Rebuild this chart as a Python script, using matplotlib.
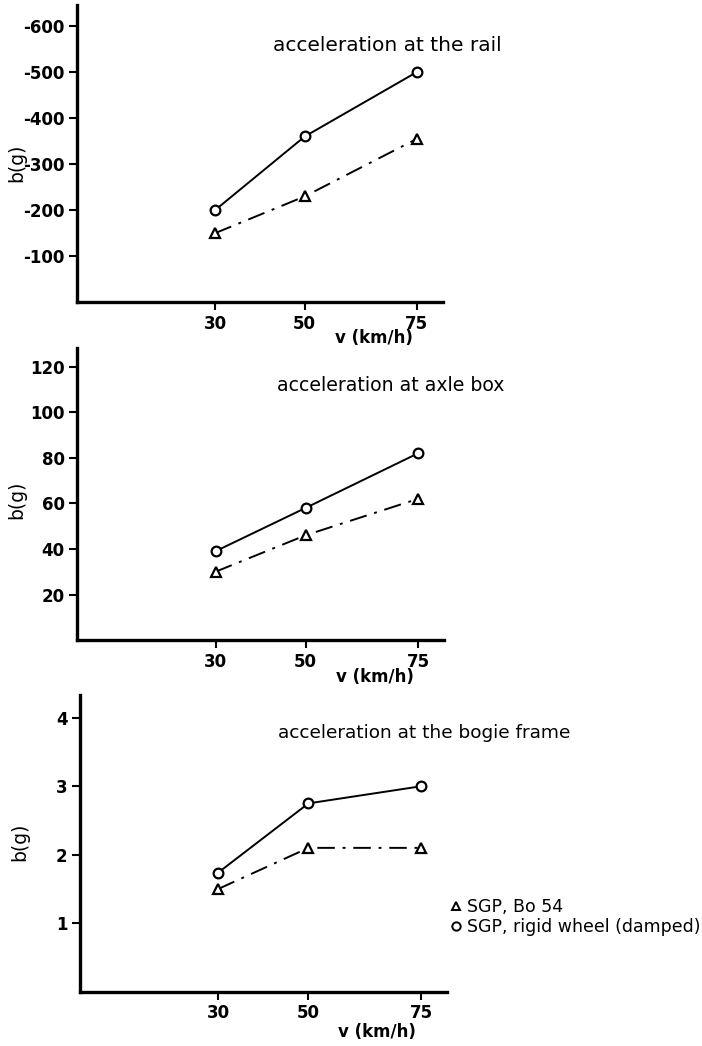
import matplotlib
matplotlib.use("Agg")
import matplotlib.pyplot as plt
from matplotlib.lines import Line2D
from matplotlib.ticker import FuncFormatter

# speeds in km/h
speeds = [30, 50, 75]

# acceleration at the rail (negative values, axis drawn upwards)
rail_bo54 = [-150, -230, -355]
rail_rigid = [-200, -360, -500]
rail_ticks = [-100, -200, -300, -400, -500, -600]

# acceleration at axle box
axle_bo54 = [30, 46, 62]
axle_rigid = [39, 58, 82]
axle_ticks = [20, 40, 60, 80, 100, 120]

# acceleration at the bogie frame
bogie_bo54 = [1.5, 2.1, 2.1]
bogie_rigid = [1.74, 2.75, 3.0]
bogie_ticks = [1, 2, 3, 4]

titles = ["acceleration at the rail", "acceleration at axle box",
          "acceleration at the bogie frame"]
legend_labels = ["SGP, Bo 54", "SGP, rigid wheel (damped)"]

plt.rcParams['font.family'] = ['DejaVu Sans']

fig = plt.figure(figsize=(7.02, 10.46), dpi=100)

boxes = [
    [0.110, 0.711, 0.521, 0.284],
    [0.110, 0.388, 0.523, 0.279],
    [0.114, 0.052, 0.523, 0.284],
]
ylims = [(0, -645), (0, 128), (0, 4.34)]
series = [(rail_bo54, rail_rigid, rail_ticks),
          (axle_bo54, axle_rigid, axle_ticks),
          (bogie_bo54, bogie_rigid, bogie_ticks)]
title_pos = [(0.535, 0.865), (0.544, 0.871), (0.540, 0.872)]
title_size = [14.5, 13.6, 13.3]
ylabel_y = [0.468, 0.48, 0.505]
xlabel_y = [-0.12, -0.125, -0.135]

dashdot = (0, (9, 4, 1.5, 4))

axes = []
for i, box in enumerate(boxes):
    ax = fig.add_axes(box)
    bo54, rigid, ticks = series[i]
    ax.plot(speeds, bo54, color="black", lw=1.4, linestyle=dashdot,
            marker="^", ms=6.5, mfc="white", mec="black", mew=1.6, zorder=3)
    ax.plot(speeds, rigid, color="black", lw=1.4, linestyle="-",
            marker="o", ms=7, mfc="white", mec="black", mew=1.6, zorder=3)

    ax.set_xlim(-0.7, 80.8)
    ax.set_ylim(*ylims[i])
    ax.set_xticks(speeds)
    ax.set_yticks(ticks)
    if i == 0:
        ax.yaxis.set_major_formatter(FuncFormatter(lambda v, p: "-%d" % abs(v)))
    else:
        ax.yaxis.set_major_formatter(FuncFormatter(lambda v, p: "%g" % v))

    for side in ["top", "right"]:
        ax.spines[side].set_visible(False)
    for side in ["left", "bottom"]:
        ax.spines[side].set_linewidth(2.4)
    ax.tick_params(axis="both", direction="out", length=6, width=1.5,
                   labelsize=12, pad=3)
    for lab in ax.get_xticklabels() + ax.get_yticklabels():
        lab.set_fontweight("bold")

    ax.text(title_pos[i][0], title_pos[i][1], titles[i], transform=ax.transAxes,
            ha="left", va="center", fontsize=title_size[i])
    ax.text(-0.165, ylabel_y[i], "b(g)", transform=ax.transAxes, rotation=90,
            ha="center", va="center", fontsize=13.5)
    ax.text(0.81, xlabel_y[i], "v (km/h)", transform=ax.transAxes,
            ha="center", va="center", fontsize=12, fontweight="bold")
    axes.append(ax)

handles = [
    Line2D([], [], ls="none", marker="^", ms=6, mfc="white", mec="black", mew=1.4),
    Line2D([], [], ls="none", marker="o", ms=6, mfc="white", mec="black", mew=1.4),
]
fig.legend(handles, legend_labels, loc="center left",
           bbox_to_anchor=(0.63, 1 - 917 / 1046), frameon=False,
           fontsize=12.5, handlelength=0.6, handletextpad=0.3,
           labelspacing=0.15, borderpad=0)

fig.savefig("out.png", dpi=100)
